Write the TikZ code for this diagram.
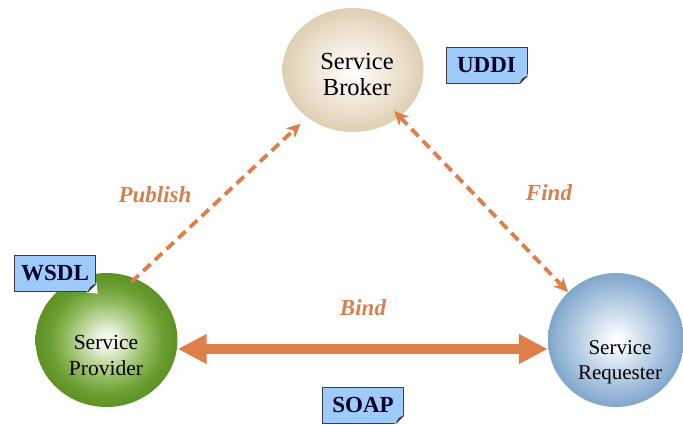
\documentclass[tikz,border=0pt]{standalone}
\usepackage{fontspec}
\setmainfont{Liberation Serif}
\usetikzlibrary{shapes.geometric,arrows.meta,calc}
\definecolor{arrorange}{RGB}{221,127,72}
\definecolor{labelorange}{RGB}{214,128,78}
\definecolor{noteblue}{RGB}{158,203,250}
\definecolor{noteedge}{RGB}{55,60,70}
\definecolor{foldgray}{RGB}{95,110,130}
\pgfdeclareradialshading{brokershade}{\pgfpoint{0bp}{0bp}}{rgb(0bp)=(1,1,1); rgb(3bp)=(0.99,0.98,0.96); rgb(18bp)=(0.92,0.87,0.79); rgb(25bp)=(0.87,0.81,0.70); rgb(50bp)=(0.87,0.81,0.70)}
\pgfdeclareradialshading{providershade}{\pgfpoint{0bp}{0bp}}{rgb(0bp)=(0.98,0.99,0.96); rgb(3bp)=(0.94,0.96,0.90); rgb(14bp)=(0.58,0.74,0.38); rgb(20bp)=(0.42,0.62,0.20); rgb(25bp)=(0.37,0.57,0.14); rgb(50bp)=(0.37,0.57,0.14)}
\pgfdeclareradialshading{requestershade}{\pgfpoint{0bp}{0bp}}{rgb(0bp)=(1,1,1); rgb(3bp)=(0.96,0.97,0.99); rgb(16bp)=(0.68,0.78,0.88); rgb(25bp)=(0.50,0.65,0.80); rgb(50bp)=(0.50,0.65,0.80)}
\tikzset{
  ball/.style={ellipse, inner sep=0pt, draw=none},
  balltext/.style={align=center, text=black, inner sep=0pt},
  note/.style={rectangle, fill=noteblue, draw=noteedge, line width=0.8pt,
    minimum width=81pt, minimum height=36pt, inner sep=0pt,
    font=\fontsize{23}{26}\selectfont\bfseries, text=black!85!blue},
  flowlabel/.style={font=\fontsize{23}{26}\selectfont\bfseries\itshape, text=labelorange},
  dasharrow/.style={draw=arrorange, line width=3.8pt, dash pattern=on 10pt off 6pt},
  dtip/.tip={Stealth[length=14pt,width=13pt,inset=4pt]},
  bigtip/.tip={Triangle[length=29pt,width=28pt]}
}
\begin{document}
\begin{tikzpicture}[x=1pt,y=-1pt]
\useasboundingbox (0,0) rectangle (683,424);

% circles
\node[ball, shading=brokershade, minimum width=141pt, minimum height=124pt] (broker) at (353,70) {};
\node[ball, shading=providershade, minimum width=142pt, minimum height=134pt] (provider) at (106.5,340) {};
\node[ball, shading=requestershade, minimum width=136pt, minimum height=134pt] (requester) at (616,340) {};

\node[balltext, font=\fontsize{24.5}{26}\selectfont] (brokertext) at (357,75) {Service\\Broker};
\node[balltext, font=\fontsize{21.5}{26}\selectfont] (providertext) at (106,355) {Service\\Provider};
\node[balltext, font=\fontsize{21}{25}\selectfont] (requestertext) at (620,362) {Service\\Requester};

% connectors
\draw[dasharrow, -dtip, shorten <=-5pt, shorten >=9pt] (provider.65) -- (broker.226);
\draw[dasharrow, dtip-dtip, shorten <=-8pt] (broker.-45) -- (requester.135);
\draw[draw=arrorange, line width=10pt, bigtip-bigtip] ([yshift=-9pt]provider.east) -- ([yshift=-9pt]requester.west);

% labels
\node[flowlabel] (publish) at (155,195) {Publish};
\node[flowlabel] (find) at (549,193) {Find};
\node[flowlabel] (bind) at (363,308) {Bind};

% notes
\node[note] (uddi) at (486.5,65.5) {UDDI};
\node[note] (wsdl) at (55,273.5) {WSDL};
\node[note] (soap) at (363,405) {SOAP};
\foreach \n in {uddi,wsdl,soap}{
  \filldraw[white, line width=1.4pt] ([xshift=-8pt]\n.south east) -- ([xshift=1pt,yshift=-1pt]\n.south east) -- ([yshift=8pt]\n.south east) -- cycle;
  \filldraw[fill=foldgray, draw=noteedge, line width=0.8pt, line join=round] ([xshift=-8pt]\n.south east) -- ([yshift=8pt]\n.south east) -- ([xshift=-5pt,yshift=5pt]\n.south east) -- cycle;
}
\end{tikzpicture}
\end{document}
